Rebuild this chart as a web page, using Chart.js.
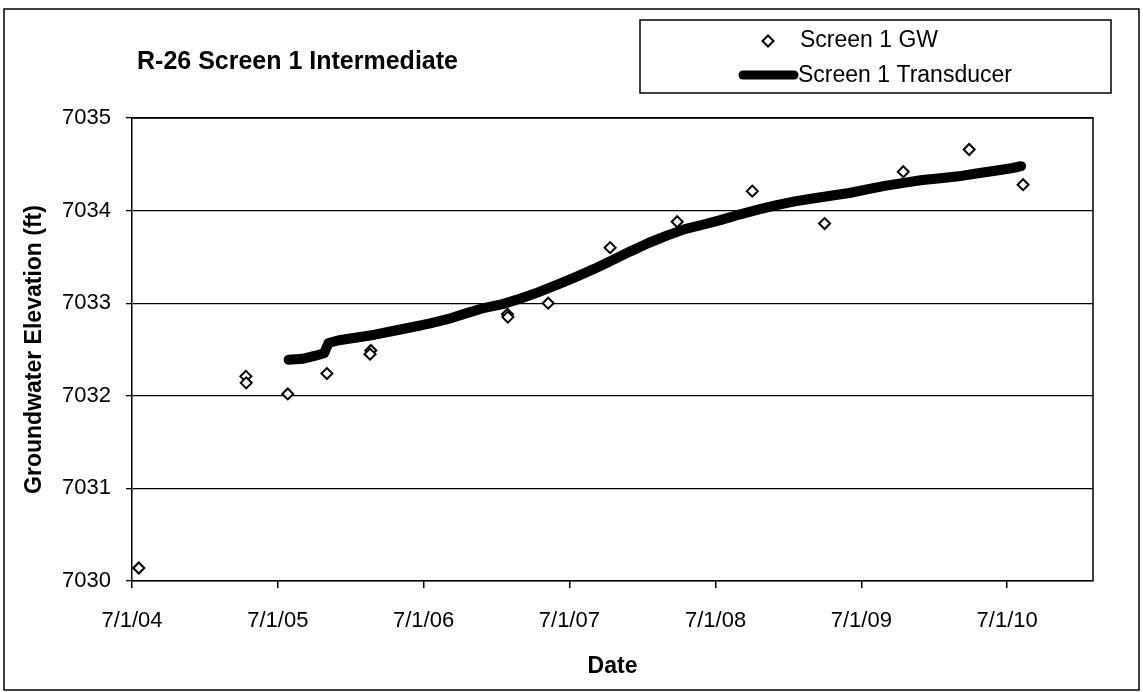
<!DOCTYPE html>
<html>
<head>
<meta charset="utf-8">
<script src="https://cdn.jsdelivr.net/npm/chart.js@4.4.1/dist/chart.umd.min.js"></script>
<style>
  html, body { margin: 0; padding: 0; background: #ffffff; }
  #wrap { position: relative; width: 1143px; height: 692px; }
  canvas { display: block; }
</style>
</head>
<body>
<div id="wrap"><canvas id="c" width="1143" height="692"></canvas></div>
<script>
const chartTitle = 'R-26 Screen 1 Intermediate';
const xAxisTitle = 'Date';
const yAxisTitle = 'Groundwater Elevation (ft)';
const gwLabel = 'Screen 1 GW';
const trLabel = 'Screen 1 Transducer';

const gwDates = ['2004-07-18','2005-04-12','2005-04-13','2005-07-26','2005-11-01','2006-02-19','2006-02-17',
  '2007-01-27','2007-01-28','2007-05-09','2007-10-11','2008-03-27','2008-10-01','2009-03-31','2009-10-14','2010-03-28','2010-08-10'];
const gwValues = [7030.14, 7032.21, 7032.14, 7032.02, 7032.24, 7032.49, 7032.45,
  7032.88, 7032.85, 7033.00, 7033.60, 7033.88, 7034.21, 7033.86, 7034.42, 7034.66, 7034.28];

const trDates = ['2005-07-28','2005-09-01','2005-10-01','2005-10-25','2005-11-05','2005-12-01','2006-01-15','2006-03-01',
  '2006-04-15','2006-06-01','2006-07-15','2006-09-01','2006-10-15','2006-12-01','2007-01-15','2007-03-01','2007-04-15',
  '2007-06-01','2007-07-15','2007-09-01','2007-10-15','2007-12-01','2008-01-15','2008-03-01','2008-04-15','2008-06-01',
  '2008-07-15','2008-09-01','2008-10-15','2008-12-01','2009-01-15','2009-03-01','2009-04-15','2009-06-01','2009-07-15',
  '2009-09-01','2009-10-15','2009-12-01','2010-01-15','2010-03-01','2010-04-15','2010-06-01','2010-07-15','2010-08-05'];
const trValues = [7032.39, 7032.40, 7032.43, 7032.46, 7032.57, 7032.60, 7032.63, 7032.66,
  7032.70, 7032.74, 7032.78, 7032.83, 7032.89, 7032.95, 7032.99, 7033.05, 7033.12,
  7033.20, 7033.28, 7033.37, 7033.46, 7033.56, 7033.65, 7033.73, 7033.80, 7033.85,
  7033.90, 7033.96, 7034.01, 7034.06, 7034.10, 7034.13, 7034.16, 7034.19, 7034.23,
  7034.27, 7034.30, 7034.33, 7034.35, 7034.37, 7034.40, 7034.43, 7034.46, 7034.48];

const xTickDates = ['2004-07-01','2005-07-01','2006-07-01','2007-07-01','2008-07-01','2009-07-01','2010-07-01'];
const xTickLabels = ['7/1/04','7/1/05','7/1/06','7/1/07','7/1/08','7/1/09','7/1/10'];
const xMinDate = '2004-07-01';
const xMaxDate = '2011-02-01';
const yMin = 7030, yMax = 7035, yStep = 1;

function dayNum(s) {
  const p = s.split('-').map(Number);
  return Date.UTC(p[0], p[1] - 1, p[2]) / 86400000;
}

const gwPoints = gwDates.map((d, i) => ({ x: dayNum(d), y: gwValues[i] }));
const trPoints = trDates.map((d, i) => ({ x: dayNum(d), y: trValues[i] }));
const xTickValues = xTickDates.map(dayNum);

const FONT = '"Liberation Sans", Arial, sans-serif';

const decor = {
  id: 'decor',
  afterDraw(chart) {
    const ctx = chart.ctx;
    const a = chart.chartArea;
    ctx.save();
    ctx.strokeStyle = '#000';
    ctx.lineWidth = 1.5;
    ctx.beginPath();
    ctx.moveTo(a.left, a.top);
    ctx.lineTo(a.right, a.top);
    ctx.lineTo(a.right, a.bottom);
    ctx.stroke();
    // outer border
    ctx.strokeRect(4, 9, 1135, 681);
    // title
    ctx.fillStyle = '#000';
    ctx.font = 'bold 25px ' + FONT;
    ctx.textAlign = 'left';
    ctx.textBaseline = 'middle';
    ctx.fillText(chartTitle, 137, 62);
    // legend box
    ctx.lineWidth = 1.5;
    ctx.strokeRect(640, 20, 471, 73);
    // GW marker
    ctx.beginPath();
    ctx.moveTo(768 - 5.5, 41);
    ctx.lineTo(768, 41 - 5.5);
    ctx.lineTo(768 + 5.5, 41);
    ctx.lineTo(768, 41 + 5.5);
    ctx.closePath();
    ctx.fillStyle = '#fff';
    ctx.fill();
    ctx.lineWidth = 2;
    ctx.strokeStyle = '#000';
    ctx.stroke();
    // transducer sample
    ctx.beginPath();
    ctx.lineCap = 'round';
    ctx.lineWidth = 9;
    ctx.moveTo(743, 75);
    ctx.lineTo(794, 75);
    ctx.stroke();
    ctx.fillStyle = '#000';
    ctx.font = '23px ' + FONT;
    ctx.fillText(gwLabel, 800, 41);
    ctx.fillText(trLabel, 798, 76);
    ctx.restore();
  }
};

new Chart(document.getElementById('c'), {
  type: 'scatter',
  data: {
    datasets: [
      {
        label: trLabel,
        data: trPoints,
        showLine: true,
        borderColor: '#000',
        backgroundColor: '#000',
        borderWidth: 10,
        borderCapStyle: 'round',
        borderJoinStyle: 'round',
        pointRadius: 0,
        tension: 0,
        order: 2
      },
      {
        label: gwLabel,
        data: gwPoints,
        showLine: false,
        pointStyle: 'rectRot',
        pointRadius: 5.5,
        pointBackgroundColor: '#fff',
        pointBorderColor: '#000',
        pointBorderWidth: 2,
        order: 1
      }
    ]
  },
  options: {
    responsive: false,
    animation: false,
    devicePixelRatio: 1,
    layout: { padding: { top: 118, right: 50, bottom: 0, left: 0 } },
    plugins: {
      legend: { display: false },
      title: { display: false },
      tooltip: { enabled: false }
    },
    scales: {
      x: {
        type: 'linear',
        min: dayNum(xMinDate),
        max: dayNum(xMaxDate),
        afterFit(scale) { scale.height = 111; },
        afterBuildTicks(scale) { scale.ticks = xTickValues.map(v => ({ value: v })); },
        ticks: {
          autoSkip: false,
          maxRotation: 0,
          padding: 20,
          color: '#000',
          font: { family: FONT, size: 22 },
          callback(value) {
            const i = xTickValues.indexOf(value);
            return i >= 0 ? xTickLabels[i] : '';
          }
        },
        grid: { drawOnChartArea: false, drawTicks: true, tickLength: 7, color: '#000', lineWidth: 1.5 },
        border: { display: true, color: '#000', width: 1.5 },
        title: { display: true, text: xAxisTitle, color: '#000', font: { family: FONT, size: 23, weight: 'bold' }, padding: { top: 0, bottom: 12 } }
      },
      y: {
        min: yMin,
        max: yMax,
        afterFit(scale) { scale.width = 132; },
        ticks: {
          stepSize: yStep,
          padding: 15,
          color: '#000',
          font: { family: FONT, size: 22 },
          callback(value) { return String(value); }
        },
        grid: { color: '#000', lineWidth: 1.3, tickLength: 6, drawTicks: true },
        border: { display: true, color: '#000', width: 1.5 },
        title: { display: true, text: yAxisTitle, color: '#000', font: { family: FONT, size: 23, weight: 'bold' }, padding: { top: 21, bottom: 0 } }
      }
    }
  },
  plugins: [decor]
});
</script>
</body>
</html>
